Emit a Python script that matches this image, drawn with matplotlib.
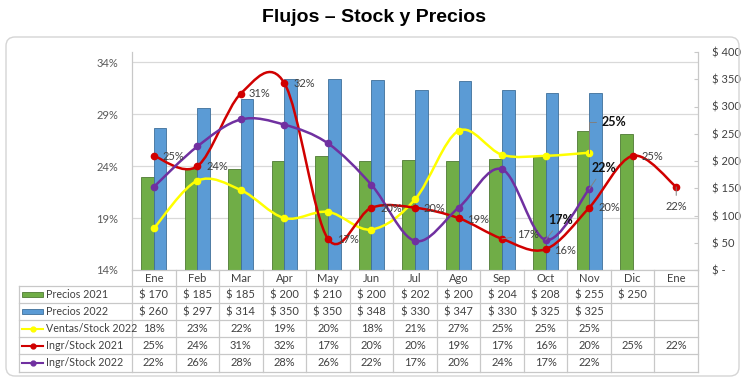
import numpy as np
import matplotlib
matplotlib.use('Agg')
import matplotlib.pyplot as plt
from matplotlib.path import Path
from matplotlib.patches import PathPatch, FancyBboxPatch, Rectangle
from matplotlib.lines import Line2D
from matplotlib.transforms import blended_transform_factory

# data
meses = ['Ene', 'Feb', 'Mar', 'Apr', 'May', 'Jun', 'Jul', 'Ago', 'Sep', 'Oct', 'Nov', 'Dic', 'Ene']
precios_2021 = [170, 185, 185, 200, 210, 200, 202, 200, 204, 208, 255, 250]
precios_2022 = [260, 297, 314, 350, 350, 348, 330, 347, 330, 325, 325]
ventas_stock_2022 = [18.0, 22.6, 21.7, 19.0, 19.6, 17.9, 20.8, 27.4, 25.1, 25.0, 25.3]
ingr_stock_2021 = [25, 24, 31, 32, 17, 20, 20, 19, 17, 16, 20, 25, 22]
ingr_stock_2022 = [22.0, 25.9, 28.5, 28.0, 26.2, 22.2, 16.8, 20.0, 23.7, 16.9, 21.8]
pct_ticks = [14, 19, 24, 29, 34]
usd_ticks = [0, 50, 100, 150, 200, 250, 300, 350, 400]

VERDE = '#70AD47'
AZUL = '#5B9BD5'
AMARILLO = '#FFFF00'
ROJO = '#D00000'
VIOLETA = '#7030A0'
GRIS_TXT = '#404040'
GRIS_LIN = '#C8C8C8'

FS = 7.5
plt.rcParams['font.family'] = ['Lato', 'DejaVu Sans']

W, H = 750, 387
fig = plt.figure(figsize=(W / 100, H / 100), dpi=100)

# plot area in pixels
X0, X1, YTOP, YBOT = 132, 698, 52, 270
ax = fig.add_axes([X0 / W, 1 - YBOT / H, (X1 - X0) / W, (YBOT - YTOP) / H])
axp = ax.twinx()

n = len(meses)
x = np.arange(n)


def smooth_path(xs, ys):
    # excel-like smoothed line, bezier control points only
    pts = np.column_stack([xs, ys]).astype(float)
    verts = [pts[0]]
    codes = [Path.MOVETO]
    m = len(pts)
    for i in range(m - 1):
        p0 = pts[max(i - 1, 0)]
        p1 = pts[i]
        p2 = pts[i + 1]
        p3 = pts[min(i + 2, m - 1)]
        verts += [p1 + (p2 - p0) / 6, p2 - (p3 - p1) / 6, p2]
        codes += [Path.CURVE4] * 3
    return Path(verts, codes)


# bars on the $ axis
bw = 0.29
ax.bar(x[:len(precios_2021)] - bw / 2, precios_2021, bw, color=VERDE, edgecolor='#4E7A33', linewidth=0.6, zorder=3)
ax.bar(x[:len(precios_2022)] + bw / 2, precios_2022, bw, color=AZUL, edgecolor='#3F6F9A', linewidth=0.6, zorder=3)
ax.set_xlim(-0.5, n - 0.5)
ax.set_ylim(0, 400)
ax.yaxis.tick_right()
ax.set_yticks(usd_ticks)
ax.set_yticklabels(['$ -' if v == 0 else f'$ {v}' for v in usd_ticks])
ax.tick_params(axis='y', direction='in', length=3, pad=10, color=GRIS_LIN, labelsize=FS + 0.5, labelcolor=GRIS_TXT)
ax.set_xticks([])

# gridlines follow the % axis but sit behind the bars
trans = blended_transform_factory(ax.transAxes, axp.transData)
for t in pct_ticks:
    ax.add_line(Line2D([0, 1], [t, t], transform=trans, color='#D9D9D9', lw=0.9, zorder=1))

for a in (ax, axp):
    a.spines['top'].set_visible(False)
    for s in ['left', 'right', 'bottom']:
        a.spines[s].set_color(GRIS_LIN)

# lines on the % axis
axp.set_ylim(14, 35)
axp.yaxis.tick_left()
axp.set_yticks(pct_ticks)
axp.set_yticklabels([f'{t}%' for t in pct_ticks])
axp.tick_params(axis='y', length=0, pad=10, labelsize=FS + 0.5, labelcolor='#595959')
axp.set_xlim(-0.5, n - 0.5)
axp.set_xticks([])

series = [(ventas_stock_2022, AMARILLO), (ingr_stock_2021, ROJO), (ingr_stock_2022, VIOLETA)]
for vals, col in series:
    xs = x[:len(vals)]
    axp.add_patch(PathPatch(smooth_path(xs, vals), facecolor='none', edgecolor=col, lw=1.8, zorder=4))
    axp.plot(xs, vals, 'o', color=col, ms=4.5, zorder=5)

# data labels
lab = dict(textcoords='offset pixels', fontsize=FS + 0.5, color=GRIS_TXT, va='center', ha='left', zorder=6)
leader = dict(arrowstyle='-', color='#808080', lw=0.7, shrinkA=2, shrinkB=0)
offs = {0: (9, -1), 1: (9, 0), 2: (8, 0), 3: (9, 0), 4: (9, -1), 5: (9, -1), 6: (9, -1),
        7: (9, -1), 9: (8, -1), 10: (9, 0), 11: (9, -1)}
for i, v in enumerate(ingr_stock_2021):
    if i in offs:
        axp.annotate(f'{v:.0f}%', (i, v), xytext=offs[i], **lab)
axp.annotate(f'{ingr_stock_2021[8]:.0f}%', (8, ingr_stock_2021[8]), xytext=(15, 4), arrowprops=leader, **lab)
lab_c = dict(lab, ha='center', va='top')
axp.annotate(f'{ingr_stock_2021[12]:.0f}%', (12, ingr_stock_2021[12]), xytext=(0, -14), arrowprops=leader, **lab_c)

bold = dict(lab, fontsize=FS + 1.5, fontweight='bold', color='#111111', va='bottom')
axp.annotate(f'{ingr_stock_2022[9]:.0f}%', (9, ingr_stock_2022[9]), xytext=(3, 14), arrowprops=leader, **bold)
axp.annotate(f'{ingr_stock_2022[10]:.0f}%', (10, ingr_stock_2022[10]), xytext=(2, 15), arrowprops=leader, **bold)
axp.annotate(f'{ventas_stock_2022[10]:.0f}%', (10, ventas_stock_2022[10]), xytext=(12, 25),
             arrowprops=dict(leader, connectionstyle='angle,angleA=0,angleB=90,rad=0'), **bold)

# overlay in pixel coordinates for frame, title and data table
ov = fig.add_axes([0, 0, 1, 1], zorder=10)
ov.set_xlim(0, W)
ov.set_ylim(H, 0)
ov.axis('off')
ov.patch.set_visible(False)

ov.add_patch(FancyBboxPatch((6, 37), 733, 339, boxstyle='round,pad=0,rounding_size=9',
                            facecolor='none', edgecolor='#D5D5D5', lw=1.0))
ov.text(374, 17, 'Flujos – Stock y Precios', ha='center', va='center', fontsize=14,
        fontweight='bold', family=['Liberation Sans Narrow', 'Liberation Sans', 'DejaVu Sans'], color='#000000')

cw = (X1 - X0) / n
rows = [286, 303.1, 320.2, 337.3, 354.4, 371.5]
TL = 19
for y in rows:
    ov.plot([TL, X1], [y, y], color=GRIS_LIN, lw=0.9)
for i in range(n + 1):
    ov.plot([X0 + i * cw] * 2, [YBOT, rows[-1]], color=GRIS_LIN, lw=0.9)
ov.plot([TL, TL], [rows[0], rows[-1]], color=GRIS_LIN, lw=0.9)

for i, m in enumerate(meses):
    ov.text(X0 + (i + 0.5) * cw, (YBOT + rows[0]) / 2, m, ha='center', va='center', fontsize=FS + 0.5, color=GRIS_TXT)

row_names = ['Precios 2021', 'Precios 2022', 'Ventas/Stock 2022', 'Ingr/Stock 2021', 'Ingr/Stock 2022']
row_vals = [[f'$ {v}' for v in precios_2021], [f'$ {v}' for v in precios_2022],
            [f'{v:.0f}%' for v in ventas_stock_2022], [f'{v:.0f}%' for v in ingr_stock_2021],
            [f'{v:.0f}%' for v in ingr_stock_2022]]
keys = [('bar', VERDE, '#4E7A33'), ('bar', AZUL, '#3F6F9A'), ('line', AMARILLO, None),
        ('line', ROJO, None), ('line', VIOLETA, None)]
for r, (name, vals, key) in enumerate(zip(row_names, row_vals, keys)):
    yc = (rows[r] + rows[r + 1]) / 2
    if key[0] == 'bar':
        ov.add_patch(Rectangle((22, yc - 2.5), 21, 5, facecolor=key[1], edgecolor=key[2], lw=0.6))
    else:
        ov.plot([22, 43], [yc, yc], color=key[1], lw=1.5)
        ov.plot([32.5], [yc], 'o', color=key[1], ms=3.5)
    ov.text(46, yc, name, ha='left', va='center', fontsize=FS + 0.2, color=GRIS_TXT)
    for i, s in enumerate(vals):
        ov.text(X0 + (i + 0.5) * cw, yc, s, ha='center', va='center', fontsize=FS + 0.5, color=GRIS_TXT)

fig.savefig('out.png', dpi=100, facecolor='white')
